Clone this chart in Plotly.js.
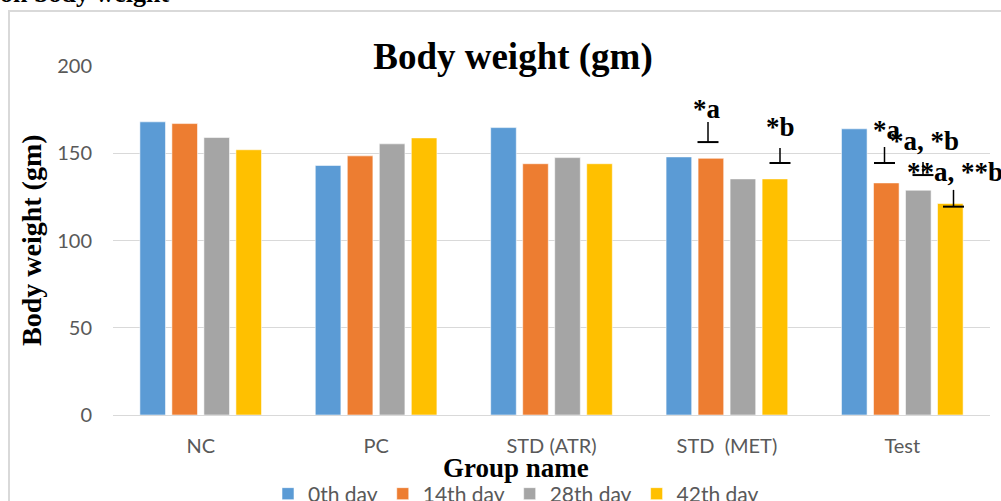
<!DOCTYPE html>
<html>
<head>
<meta charset="utf-8">
<script src="https://cdn.plot.ly/plotly-3.0.1.min.js"></script>
<style>html,body{margin:0;padding:0;background:#fff;overflow:hidden;}#chart{width:1001px;height:501px;overflow:hidden;}</style>
</head>
<body>
<div id="chart"></div>
<script>
// ---- data ----
const groups = ["NC", "PC", "STD (ATR)", "STD\u00a0 (MET)", "Test"];
const seriesNames = ["0th day", "14th day", "28th day", "42th day"];
const day0  = [168, 143, 164.7, 147.9, 164];
const day14 = [167, 148.5, 144, 147.1, 133];
const day28 = [159, 155.4, 147.5, 135.3, 128.8];
const day42 = [152, 158.8, 144, 135.3, 121.2];
const yTicks = [0, 50, 100, 150, 200];

// significance labels: group, text, y value
const sigGroups = ["STD\u00a0 (MET)", "STD\u00a0 (MET)", "Test", "Test", "Test"];
const sigTexts  = ["*a", "*b", "*a", "*a, *b", "**a, **b"];
const sigY      = [175.4, 164.8, 163.3, 157, 139.3];
// cap marks (⊥): group, base value, top value
const capGroups = ["STD\u00a0 (MET)", "STD\u00a0 (MET)", "Test", "Test", "Test"];
const capBase   = [156.4, 144.4, 144.4, 137.5, 119.4];
const capTop    = [167.9, 153.0, 153.6, 145.0, 129.0];

// ---- styling (positions in pixels relative to category centre) ----
const sigShift  = [-19.9, 53.1, -31, -14, 2.7];
const sigAnchor = ["center", "center", "left", "left", "left"];
const capShift  = [-18.9, 53.1, -17.8, 20.7, 51.2];

const colors = ["#5B9BD5", "#ED7D31", "#A5A5A5", "#FFC000"];
const values = [day0, day14, day28, day42];

const traces = values.map((v, i) => ({
  type: "bar",
  name: seriesNames[i],
  x: groups,
  y: v,
  marker: {color: colors[i], line: {color: "rgba(255,255,255,0.55)", width: 1}},
  hoverinfo: "x+y"
}));

const serif = "Liberation Serif, Times New Roman, serif";
const sans = "Lato, Carlito, Calibri, sans-serif";

const annotations = [];
sigTexts.forEach((t, i) => {
  annotations.push({
    xref: "x", yref: "y", x: sigGroups[i], y: sigY[i],
    text: "<b>" + t + "</b>", showarrow: false,
    xanchor: sigAnchor[i], yanchor: "middle", xshift: sigShift[i],
    font: {family: serif, size: 27, color: "#000"}
  });
});
// axis titles & stray caption
annotations.push({xref: "paper", yref: "paper", x: (31 - 113) / 877, y: (415 - 240) / 349,
  text: "<b>Body weight (gm)</b>", textangle: -90, showarrow: false,
  xanchor: "center", yanchor: "middle", font: {family: serif, size: 28, color: "#000"}});
annotations.push({xref: "paper", yref: "paper", x: (516 - 113) / 877, y: (415 - 468) / 349,
  text: "<b>Group name</b>", showarrow: false,
  xanchor: "center", yanchor: "middle", font: {family: serif, size: 27, color: "#000"}});
annotations.push({xref: "paper", yref: "paper", x: (-2 - 113) / 877, y: (415 + 6) / 349,
  text: "<b>on body weight</b>", showarrow: false,
  xanchor: "left", yanchor: "middle", font: {family: serif, size: 26, color: "#000"}});

const shapes = [];
// frame
shapes.push({type: "rect", xref: "paper", yref: "paper",
  x0: (9 - 113) / 877, x1: (1010 - 113) / 877, y0: (415 - 520) / 349, y1: (415 - 11) / 349,
  line: {color: "#D9D9D9", width: 2}, fillcolor: "rgba(0,0,0,0)", layer: "below"});
capGroups.forEach((g, i) => {
  shapes.push({type: "line", xref: "x", yref: "y", xsizemode: "pixel", xanchor: g,
    x0: capShift[i] - 10.5, x1: capShift[i] + 10.5, y0: capBase[i], y1: capBase[i],
    line: {color: "#000", width: 2}});
  shapes.push({type: "line", xref: "x", yref: "y", xsizemode: "pixel", xanchor: g,
    x0: capShift[i], x1: capShift[i], y0: capBase[i], y1: capTop[i],
    line: {color: "#000", width: 1.5}});
});

const layout = {
  width: 1001, height: 501, autosize: false,
  margin: {l: 113, r: 11, t: 66, b: 86, pad: 0, autoexpand: false},
  paper_bgcolor: "#fff", plot_bgcolor: "#fff",
  title: {text: "<b>Body weight (gm)</b>", x: 513 / 1001, xanchor: "center",
    y: 1 - 56 / 501, yanchor: "middle", font: {family: serif, size: 37, color: "#000"}},
  barmode: "group", bargap: 0.27, bargroupgap: 0.2,
  xaxis: {type: "category", range: [-0.5, groups.length - 0.5], autorange: false,
    showgrid: false, showline: true, linecolor: "#D9D9D9", linewidth: 1,
    ticks: "", tickfont: {family: sans, size: 20, color: "#595959"}, ticklabelstandoff: 13,
    automargin: false, fixedrange: true},
  yaxis: {range: [0, 200], autorange: false, tickvals: yTicks, ticktext: yTicks.map(String),
    showgrid: true, gridcolor: "#D9D9D9", gridwidth: 1, zeroline: false, showline: false,
    ticks: "", tickfont: {family: sans, size: 20, color: "#595959"}, ticklabelstandoff: 20,
    automargin: false, fixedrange: true},
  showlegend: true,
  legend: {orientation: "h", xref: "container", yref: "container",
    x: 516 / 1001, xanchor: "center", y: 1 - 494 / 501, yanchor: "middle",
    font: {family: sans, size: 21, color: "#595959"}, itemwidth: 30, traceorder: "normal",
    bgcolor: "rgba(0,0,0,0)"},
  annotations: annotations,
  shapes: shapes
};

Plotly.newPlot("chart", traces, layout, {staticPlot: true, displayModeBar: false});
</script>
</body>
</html>
